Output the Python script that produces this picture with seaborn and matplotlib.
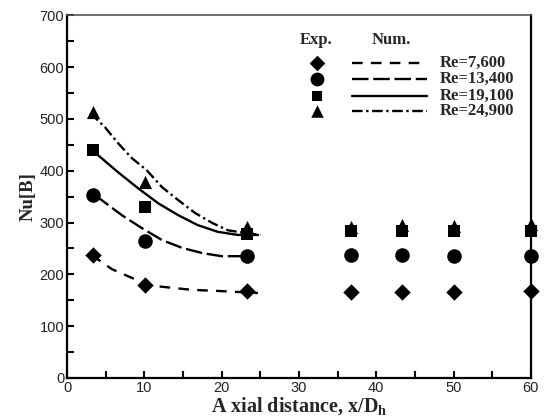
import matplotlib
matplotlib.use("Agg")
import matplotlib.pyplot as plt
import seaborn as sns

# experimental points
x_exp = [3.4, 10.1, 23.3, 36.7, 43.3, 50.0, 60.0]
exp_7600 = [237, 179, 168, 165, 166, 165, 167]
exp_13400 = [354, 264, 235, 238, 237, 235, 235]
exp_19100 = [439, 329, 277, 284, 284, 284, 283]
exp_24900 = [514, 378, 291, 291, 295, 294, 297]

# numerical curves
x_num_7600 = [3.2, 5.8, 8.4, 11.0, 13.6, 16.2, 19.5, 24.7]
num_7600 = [237, 210, 193, 178, 174, 170, 168, 164]
x_num_13400 = [3.6, 4.5, 7.1, 9.7, 12.3, 14.9, 17.5, 20.0, 22.5]
num_13400 = [352, 343, 314, 289, 266, 251, 241, 235, 235]
x_num_19100 = [3.4, 4.0, 6.6, 9.2, 11.8, 14.4, 16.9, 19.5, 22.1, 24.7]
num_19100 = [439, 430, 397, 366, 337, 314, 295, 282, 276, 276]
x_num_24900 = [3.0, 4.9, 6.6, 8.4, 10.3, 12.3, 14.4, 16.6, 18.8, 20.8, 23.0, 25.0]
num_24900 = [511, 484, 453, 424, 401, 368, 343, 318, 299, 285, 280, 276]

labels = ["Re=7,600", "Re=13,400", "Re=19,100", "Re=24,900"]
markers = ["D", "o", "s", "^"]
marker_sizes = [70, 110, 65, 90]
styles = [(0, (4.5, 3.5)), (0, (7, 2)), "-", (0, (4.5, 1.5, 1, 1.5))]

exp_series = [exp_7600, exp_13400, exp_19100, exp_24900]
num_series = [(x_num_7600, num_7600), (x_num_13400, num_13400),
              (x_num_19100, num_19100), (x_num_24900, num_24900)]

sns.set_theme(style="ticks")
plt.rcParams["font.family"] = ["Liberation Sans", "DejaVu Sans"]
plt.rcParams["mathtext.fontset"] = "custom"
plt.rcParams["mathtext.bf"] = "Liberation Serif:bold"
plt.rcParams["mathtext.rm"] = "Liberation Serif:bold"

fig = plt.figure(figsize=(5.45, 4.18), dpi=100)
ax = fig.add_axes([0.123, 0.0957, 0.851, 0.868])

for i in range(4):
    xs, ys = num_series[i]
    sns.lineplot(x=xs, y=ys, ax=ax, color="black", linewidth=1.7,
                 linestyle=styles[i], sort=False, estimator=None)
    sns.scatterplot(x=x_exp, y=exp_series[i], ax=ax, color="black",
                    marker=markers[i], s=marker_sizes[i], edgecolor="black",
                    linewidth=0, zorder=5, clip_on=False)

ax.set_xlim(0, 60)
ax.set_ylim(0, 700)
ax.set_xticks(range(0, 61, 10))
ax.set_xticks(range(5, 60, 10), minor=True)
ax.set_yticks(range(0, 701, 100))
ax.set_yticks(range(50, 700, 100), minor=True)
ax.tick_params(which="both", direction="in", length=5, width=1.5,
               labelsize=10.5, color="black", labelcolor="#222222", pad=2)
for side in ["left", "bottom", "right"]:
    ax.spines[side].set_linewidth(1.6)
    ax.spines[side].set_color("black")
ax.spines["top"].set_linewidth(1.2)
ax.spines["top"].set_color("#555555")

ax.set_xlabel(r"A xial distance, x/D$_{\mathbf{h}}$", family="Liberation Serif",
              fontweight="bold", fontsize=14.5, labelpad=0)
ax.set_ylabel("Nu[B]", family="Liberation Serif", fontweight="bold",
              fontsize=13.5, labelpad=2)

# legend drawn in axes coordinates
ax.text(0.537, 0.931, "Exp.", transform=ax.transAxes, ha="center", va="center",
        family="Liberation Serif", fontweight="bold", fontsize=12)
ax.text(0.700, 0.931, "Num.", transform=ax.transAxes, ha="center", va="center",
        family="Liberation Serif", fontweight="bold", fontsize=12)
rows = [0.868, 0.824, 0.777, 0.736]
for i in range(4):
    ax.scatter([0.539], [rows[i]], transform=ax.transAxes, marker=markers[i],
               s=marker_sizes[i] * 0.9, color="black", linewidth=0, clip_on=False)
    ax.plot([0.614, 0.776], [rows[i], rows[i]], transform=ax.transAxes,
            color="black", linewidth=1.7, linestyle=styles[i])
    ax.text(0.804, rows[i], labels[i], transform=ax.transAxes, ha="left",
            va="center", family="Liberation Serif", fontweight="bold",
            fontsize=12)

fig.savefig("out.png", dpi=100)
